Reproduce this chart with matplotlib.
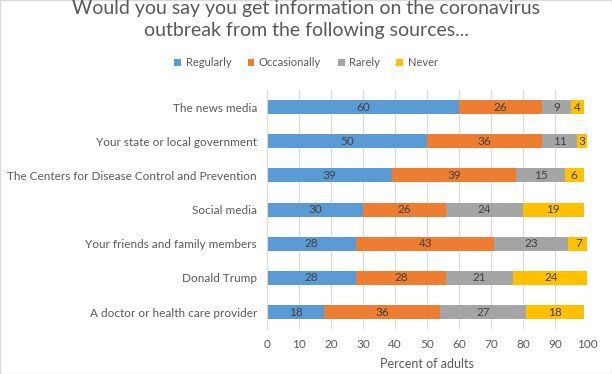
import numpy as np
import matplotlib.pyplot as plt

sources = ['The news media', 'Your state or local government',
           'The Centers for Disease Control and Prevention', 'Social media',
           'Your friends and family members', 'Donald Trump',
           'A doctor or health care provider']
regularly = [60, 50, 39, 30, 28, 28, 18]
occasionally = [26, 36, 39, 26, 43, 28, 36]
rarely = [9, 11, 15, 24, 23, 21, 27]
never = [4, 3, 6, 19, 7, 24, 18]

series = [('Regularly', regularly, '#5B9BD5'),
          ('Occasionally', occasionally, '#ED7D31'),
          ('Rarely', rarely, '#A5A5A5'),
          ('Never', never, '#FFC000')]

plt.rcParams['font.family'] = ['Lato', 'DejaVu Sans']
txt = '#595959'

fig = plt.figure(figsize=(6.12, 3.74), dpi=100)
ax = fig.add_axes([0.436, 0.120, 0.523, 0.639])

y = np.arange(len(sources))
left = np.zeros(len(sources))
for name, vals, color in series:
    vals = np.array(vals)
    ax.barh(y, vals, left=left, height=0.41, color=color, label=name, zorder=2)
    for yi, l, v in zip(y, left, vals):
        ax.text(l + v / 2, yi, str(v), ha='center', va='center',
                fontsize=8.5, color='#404040', zorder=3)
    left += vals

ax.set_ylim(len(sources) - 0.5, -0.5)
ax.set_xlim(0, 100)
ax.set_xticks(np.arange(0, 101, 10))
ax.set_yticks(y)
ax.set_yticklabels(sources)
ax.tick_params(axis='both', length=0, labelsize=8.5, labelcolor=txt)
ax.tick_params(axis='x', pad=7)
ax.tick_params(axis='y', pad=7)
ax.grid(axis='x', color='#D9D9D9', linewidth=0.8, zorder=0)
for s in ['top', 'right', 'bottom']:
    ax.spines[s].set_visible(False)
ax.spines['left'].set_color('#D9D9D9')
ax.set_xlabel('Percent of adults', fontsize=9, color=txt, labelpad=6)

fig.text(0.5, 0.948, 'Would you say you get information on the coronavirus\noutbreak from the following sources...',
         ha='center', va='center', fontsize=14, color=txt, linespacing=1.3)
fig.legend(loc='center', bbox_to_anchor=(0.5, 0.832), ncol=4, frameon=False,
           fontsize=8, labelcolor=txt, handlelength=0.6, handleheight=0.6,
           handletextpad=0.4, columnspacing=1.5)

fig.patches.append(plt.Rectangle((0, 0), 1, 1, transform=fig.transFigure,
                                 fill=False, edgecolor='#D9D9D9', linewidth=1))

fig.savefig('out.png', dpi=100)
